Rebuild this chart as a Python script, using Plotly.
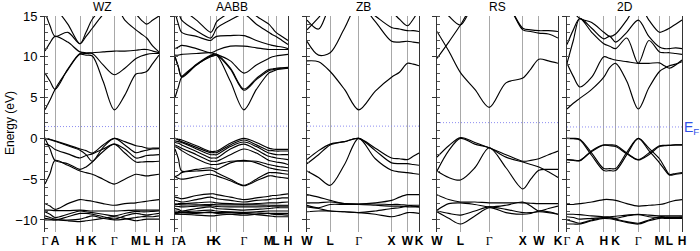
import plotly.graph_objects as go

# ---------------- data ----------------
PANEL_TITLES = ["WZ", "AABB", "ZB", "RS", "2D"]
FERMI_LEVELS = [1.45, 1.5, 1.5, 1.93, 1.4]

WZ_TICKS = [0, 0.088, 0.307, 0.415, 0.608, 0.798, 0.892, 1.0]
WZ_LABELS = ["Γ", "A", "H", "K", "Γ", "M", "L", "H"]
WZ_K = [0, .044, .088, .2, .307, .36, .415, .51, .608, .70, .798, .845, .892, .946, 1.0]
WZ_BANDS = [
    [3.5, 4.7, 6.0, 8.4, 10.3, 10.2, 10.1, 7.0, 3.5, 5.3, 7.9, 8.0, 8.2, 9.2, 10.2],
    [8.0, 7.0, 6.0, 8.5, 10.4, 10.4, 10.4, 9.0, 7.8, 8.6, 9.8, 10.1, 10.3, 10.4, 10.4],
    [10.7, 11.7, 12.5, 11.8, 10.6, 10.5, 10.5, 10.6, 10.7, 10.7, 10.8, 10.9, 10.9, 10.7, 10.5],
    [15.5, 13.8, 12.5, 13.0, 11.6, 12.5, 13.5, 15.2, 16.5, 14.5, 13.3, 12.8, 12.3, 11.3, 10.6],
    [16.5, 16.5, 16.0, 14.0, 11.6, 13.0, 14.6, 16.0, 16.5, 16.0, 15.2, 14.5, 14.0, 14.5, 15.0],
    [0, -0.1, -0.3, -0.8, -1.3, -1.5, -1.8, -0.8, 0, -0.4, -0.9, -1.0, -1.2, -1.2, -1.2],
    [0, -0.15, -0.35, -0.9, -1.45, -2.0, -2.8, -1.1, 0, -0.8, -1.75, -1.6, -1.45, -1.3, -1.25],
    [-0.7, -0.9, -1.35, -1.9, -2.4, -2.1, -1.9, -1.3, -0.7, -1.3, -2.4, -2.3, -2.1, -2.05, -2.0],
    [0, -1.3, -2.7, -3.1, -3.8, -3.5, -2.9, -1.6, -0.7, -1.8, -2.9, -2.9, -2.85, -2.85, -2.8],
    [-5.6, -4.3, -2.7, -3.3, -4.0, -4.2, -4.4, -5.0, -5.6, -5.0, -4.4, -4.5, -4.6, -4.5, -4.4],
    [-8.0, -8.3, -8.7, -8.0, -7.5, -7.6, -7.7, -8.0, -8.2, -8.0, -7.9, -7.8, -7.7, -7.6, -7.5],
    [-8.8, -8.8, -8.85, -8.85, -8.8, -8.85, -8.9, -8.9, -8.9, -8.85, -8.8, -8.8, -8.8, -8.8, -8.8],
    [-9.0, -9.3, -9.7, -9.3, -8.9, -9.0, -9.1, -9.3, -9.5, -9.2, -8.95, -9.0, -9.0, -8.95, -8.9],
    [-9.8, -9.9, -10.0, -9.6, -9.2, -9.2, -9.3, -9.6, -9.9, -9.5, -9.2, -9.3, -9.4, -9.3, -9.2],
    [-10.0, -10.0, -10.0, -10.0, -9.9, -9.7, -9.5, -9.8, -10.0, -9.9, -9.7, -9.6, -9.6, -9.6, -9.5],
    [-9.5, -9.7, -9.9, -10.1, -10.2, -10.1, -10.0, -9.8, -9.6, -9.8, -10.1, -10.0, -9.9, -9.9, -9.9],
]

AABB_TICKS = [0, 0.059, 0.316, 0.369, 0.61, 0.83, 0.894, 1.0]
AABB_LABELS = ["Γ", "A", "H", "K", "Γ", "M", "L", "H"]
AABB_K = [0, .03, .059, .19, .316, .343, .369, .49, .61, .72, .83, .862, .894, .947, 1.0]
AABB_BANDS = [
    [5.0, 6.3, 7.5, 9.0, 10.0, 10.1, 10.2, 7.0, 3.5, 6.0, 8.0, 8.2, 8.4, 8.5, 8.6],
    [10.0, 8.7, 7.5, 9.0, 10.1, 10.2, 10.2, 8.5, 5.9, 7.2, 8.3, 8.4, 8.5, 8.6, 8.6],
    [10.0, 8.8, 7.6, 9.1, 10.2, 10.3, 10.3, 8.6, 6.05, 7.35, 8.45, 8.5, 8.6, 8.65, 8.7],
    [10.2, 10.2, 10.3, 10.4, 10.5, 10.4, 10.3, 9.5, 8.0, 9.0, 9.8, 10.0, 10.1, 10.2, 10.3],
    [11.0, 11.2, 11.4, 11.0, 10.5, 10.6, 10.8, 11.3, 11.3, 11.1, 10.9, 10.9, 10.9, 10.9, 10.9],
    [15.5, 14.0, 13.0, 12.5, 12.0, 12.3, 12.5, 12.6, 12.6, 12.0, 11.5, 11.4, 11.3, 11.2, 11.0],
    [16.0, 15.5, 14.5, 13.2, 12.3, 12.8, 13.5, 14.5, 15.2, 14.0, 13.0, 12.7, 12.5, 12.0, 11.5],
    [16.0, 16.0, 15.8, 14.5, 13.0, 13.5, 14.3, 15.5, 16.5, 15.0, 14.0, 13.5, 13.0, 12.5, 12.0],
    [0, -0.1, -0.2, -0.9, -1.6, -1.6, -1.55, -0.6, 0, -0.5, -1.2, -1.3, -1.35, -1.35, -1.35],
    [0, -0.2, -0.4, -1.1, -1.75, -1.75, -1.75, -0.8, -0.2, -0.8, -1.5, -1.5, -1.55, -1.55, -1.55],
    [-0.3, -0.4, -0.5, -1.3, -2.0, -2.0, -2.0, -1.0, -0.45, -1.0, -1.8, -1.9, -2.0, -2.0, -2.0],
    [-0.5, -0.6, -0.8, -1.6, -2.4, -2.4, -2.4, -1.3, -0.7, -1.4, -2.2, -2.3, -2.4, -2.5, -2.6],
    [-0.8, -1.0, -1.2, -2.0, -2.8, -2.8, -2.8, -2.0, -1.3, -1.8, -2.7, -2.8, -2.9, -3.0, -3.2],
    [-1.0, -1.2, -1.5, -2.5, -3.2, -3.2, -3.2, -2.8, -2.8, -2.8, -3.2, -3.3, -3.4, -3.5, -3.6],
    [-1.3, -2.5, -4.0, -3.8, -3.6, -3.7, -3.8, -3.0, -2.7, -3.0, -3.6, -3.7, -3.8, -3.9, -4.0],
    [-4.7, -4.5, -4.2, -4.0, -3.9, -4.0, -4.2, -5.0, -5.75, -5.0, -4.2, -4.2, -4.2, -4.3, -4.4],
    [-4.7, -4.9, -5.0, -4.7, -4.4, -4.5, -4.6, -5.2, -5.8, -5.2, -4.6, -4.6, -4.7, -4.8, -4.9],
    [-7.2, -7.3, -7.4, -7.0, -6.8, -6.8, -6.9, -7.2, -7.5, -7.3, -7.1, -7.0, -7.0, -6.9, -6.8],
    [-7.6, -7.7, -7.8, -7.5, -7.2, -7.3, -7.4, -7.6, -7.8, -7.6, -7.5, -7.4, -7.4, -7.3, -7.3],
    [-8.0, -8.0, -8.0, -7.9, -7.8, -7.85, -7.9, -8.0, -8.05, -8.0, -7.9, -7.9, -7.9, -7.85, -7.8],
    [-8.1, -8.1, -8.15, -8.15, -8.1, -8.1, -8.15, -8.15, -8.15, -8.15, -8.2, -8.2, -8.2, -8.2, -8.2],
    [-8.3, -8.35, -8.4, -8.3, -8.25, -8.3, -8.35, -8.4, -8.4, -8.4, -8.35, -8.3, -8.3, -8.3, -8.3],
    [-8.6, -8.7, -8.9, -8.6, -8.4, -8.5, -8.6, -8.7, -8.8, -8.7, -8.6, -8.55, -8.5, -8.5, -8.5],
    [-8.9, -8.95, -9.0, -8.9, -8.8, -8.85, -8.9, -9.0, -9.05, -9.0, -8.9, -8.9, -8.9, -8.9, -8.9],
    [-9.1, -9.1, -9.1, -9.1, -9.1, -9.1, -9.1, -9.1, -9.1, -9.15, -9.2, -9.2, -9.2, -9.2, -9.2],
    [-9.2, -9.25, -9.3, -9.4, -9.5, -9.5, -9.45, -9.3, -9.2, -9.35, -9.5, -9.55, -9.6, -9.6, -9.6],
    [-9.3, -9.3, -9.3, -9.2, -9.0, -9.1, -9.2, -9.3, -9.4, -9.3, -9.2, -9.3, -9.35, -9.35, -9.4],
]

ZB_TICKS = [0, 0.207, 0.462, 0.755, 0.897, 1.0]
ZB_LABELS = ["W", "L", "Γ", "X", "W", "K"]
ZB_K = [0, .103, .207, .335, .462, .61, .755, .826, .897, .948, 1.0]
ZB_BANDS = [
    [9.5, 9.4, 8.2, 6.0, 3.5, 5.8, 7.5, 8.1, 9.2, 9.1, 8.9],
    [11.9, 10.2, 10.5, 13.5, 16.5, 14.3, 11.9, 11.8, 11.9, 11.8, 11.7],
    [13.3, 14.8, 16.5, 16.5, 16.5, 15.0, 13.6, 13.4, 13.2, 13.2, 13.1],
    [16.5, 16.5, 16.5, 16.5, 16.5, 16.5, 15.5, 14.6, 13.8, 14.6, 15.8],
    [14.5, 13.4, 16.0, 16.5, 16.5, 16.5, 16.5, 16.5, 16.5, 16.5, 16.5],
    [-2.6, -1.5, -0.7, -0.4, 0, -1.2, -2.4, -2.5, -2.6, -2.2, -1.8],
    [-3.1, -2.0, -0.8, -0.4, 0, -1.5, -3.0, -3.1, -3.1, -3.2, -3.3],
    [-4.0, -4.8, -5.75, -3.2, 0, -2.5, -3.9, -4.1, -4.2, -4.3, -4.4],
    [-6.9, -7.2, -7.6, -8.0, -8.05, -7.9, -7.6, -7.2, -6.9, -6.9, -6.9],
    [-7.9, -7.9, -7.8, -8.0, -8.05, -8.05, -8.1, -8.1, -8.2, -8.2, -8.2],
    [-8.2, -8.5, -8.1, -8.1, -8.1, -8.2, -8.3, -8.3, -8.4, -8.4, -8.4],
    [-8.4, -8.6, -8.9, -9.0, -9.1, -8.9, -8.6, -8.5, -8.3, -8.3, -8.4],
    [-9.0, -8.9, -8.9, -9.0, -9.1, -9.3, -9.6, -9.4, -9.1, -9.1, -9.2],
]

RS_TICKS = [0, 0.194, 0.432, 0.709, 0.842, 1.0]
RS_LABELS = ["W", "L", "Γ", "X", "W", "K"]
RS_K = [0, .097, .194, .313, .432, .57, .709, .775, .842, .921, 1.0]
RS_BANDS = [
    [13.1, 10.7, 8.05, 6.0, 3.8, 6.8, 7.4, 8.5, 9.7, 9.5, 9.2],
    [9.8, 11.8, 13.9, 16.5, 16.5, 16.5, 13.3, 13.1, 12.9, 12.8, 12.3],
    [16.5, 15.0, 13.9, 16.5, 16.5, 16.5, 13.5, 13.3, 13.2, 13.2, 13.1],
    [-2.3, -0.9, 0.1, -0.5, -1.15, -2.0, -2.8, -2.7, -2.5, -2.0, -1.55],
    [-4.0, -1.5, 0.0, -0.7, -1.15, -2.3, -2.9, -3.2, -3.5, -4.1, -4.8],
    [-4.0, -4.8, -5.1, -3.6, -1.15, -3.6, -6.2, -5.0, -3.9, -3.8, -3.8],
    [-6.9, -7.5, -7.8, -7.8, -7.9, -7.9, -7.9, -7.95, -8.0, -8.0, -8.0],
    [-8.8, -8.0, -7.9, -8.1, -8.4, -8.2, -7.8, -8.3, -8.9, -8.6, -8.3],
    [-8.9, -9.2, -9.4, -8.9, -8.4, -8.7, -9.1, -9.1, -9.0, -9.1, -9.3],
    [-9.0, -9.8, -10.5, -9.5, -8.5, -9.1, -9.3, -9.2, -8.9, -9.0, -9.3],
]

D2_TICKS = [0, 0.111, 0.32, 0.423, 0.62, 0.804, 0.89, 1.0]
D2_LABELS = ["Γ", "A", "H", "K", "Γ", "M", "L", "H"]
D2_K = [0, .055, .111, .215, .32, .372, .423, .52, .62, .712, .804, .847, .89, .945, 1.0]
D2_BANDS = [
    [3.6, 4.3, 4.9, 6.0, 7.5, 8.7, 9.2, 7.0, 3.6, 6.2, 8.2, 8.6, 8.9, 9.1, 9.4],
    [9.2, 7.6, 6.3, 7.5, 10.0, 9.8, 9.6, 9.4, 9.2, 9.2, 9.25, 8.9, 8.6, 9.0, 9.6],
    [9.2, 12.0, 14.7, 13.0, 11.6, 11.3, 11.0, 12.3, 9.2, 12.0, 10.6, 10.5, 10.5, 10.4, 10.3],
    [11.5, 13.3, 14.7, 13.5, 12.2, 12.5, 11.8, 13.0, 14.5, 12.5, 11.2, 11.0, 11.0, 11.1, 11.0],
    [16.5, 15.5, 14.7, 14.2, 13.0, 12.5, 12.8, 14.5, 16.5, 14.5, 13.0, 13.2, 13.5, 14.0, 14.5],
    [0, 0, -0.1, -1.8, -3.7, -3.7, -3.7, -1.7, 0, -1.2, -2.5, -3.5, -4.4, -4.3, -4.2],
    [0, -0.05, -0.2, -2.1, -3.95, -3.95, -3.95, -2.0, 0, -1.5, -3.0, -3.8, -4.5, -4.4, -4.3],
    [-2.6, -2.7, -2.75, -1.5, -0.8, -0.8, -0.85, -1.8, -2.6, -1.8, -0.9, -0.85, -0.85, -0.8, -0.8],
    [-2.6, -2.65, -2.7, -1.6, -0.85, -0.9, -1.0, -1.9, -2.65, -2.0, -1.0, -0.9, -0.85, -0.8, -0.8],
    [-8.1, -8.1, -8.0, -7.8, -7.5, -7.5, -7.6, -8.0, -8.3, -8.2, -8.1, -8.0, -7.8, -7.6, -7.5],
    [-9.3, -9.3, -9.35, -9.5, -9.6, -9.6, -9.55, -9.4, -9.3, -9.4, -9.5, -9.5, -9.5, -9.5, -9.5],
    [-9.6, -9.7, -9.9, -9.8, -9.7, -9.7, -9.8, -9.5, -9.35, -9.6, -9.7, -9.7, -9.65, -9.65, -9.6],
    [-10.0, -10.2, -10.4, -10.0, -9.7, -9.75, -9.9, -10.2, -10.4, -10.0, -9.6, -9.6, -9.7, -9.7, -9.7],
    [-10.5, -10.5, -10.5, -10.1, -9.8, -9.85, -10.0, -10.3, -10.5, -10.1, -9.8, -9.8, -9.8, -9.8, -9.8],
]

Y_TICKS = [15, 10, 5, 0, -5, -10]

# ---------------- figure ----------------
W, H = 700, 251
panels = [
    (WZ_K, WZ_BANDS, WZ_TICKS, WZ_LABELS, (45, 159)),
    (AABB_K, AABB_BANDS, AABB_TICKS, AABB_LABELS, (175, 288)),
    (ZB_K, ZB_BANDS, ZB_TICKS, ZB_LABELS, (307, 419)),
    (RS_K, RS_BANDS, RS_TICKS, RS_LABELS, (437, 558)),
    (D2_K, D2_BANDS, D2_TICKS, D2_LABELS, (567, 682)),
]
y_top_px, y_bot_px = 16, 232.2
ydom = [(H - y_bot_px) / H, (H - y_top_px) / H]

fig = go.Figure()
layout = dict(width=W, height=H, margin=dict(l=0, r=0, t=0, b=0, pad=0), autosize=False,
              paper_bgcolor="white", plot_bgcolor="white", showlegend=False,
              font=dict(family="Liberation Sans, Arial, sans-serif", color="black"))
annotations = []

def fmt(lbl):
    if lbl == "Γ":
        return '<span style="font-family:Liberation Serif;font-weight:normal">Γ</span>'
    return "<b>" + lbl + "</b>"

for i, (kx, bands, ticks, labels, (x0, x1)) in enumerate(panels):
    n = "" if i == 0 else str(i + 1)
    xa, ya = "x" + n, "y" + n
    for b in bands:
        fig.add_trace(go.Scatter(x=kx, y=b, mode="lines", xaxis=xa, yaxis=ya,
                                 line=dict(color="black", width=1.15, shape="spline", smoothing=0.9),
                                 hoverinfo="skip"))
    fig.add_trace(go.Scatter(x=[0, 1], y=[FERMI_LEVELS[i]] * 2, mode="lines", xaxis=xa, yaxis=ya,
                             line=dict(color="#8c8cf0", width=1, dash="1px,2px"), hoverinfo="skip"))
    layout["xaxis" + n] = dict(domain=[x0 / W, x1 / W], range=[0, 1], anchor=ya, automargin=False,
                               tickvals=ticks, ticktext=[fmt(t) for t in labels], tickangle=0,
                               showgrid=True, gridcolor="#a8a8a8", gridwidth=1,
                               showline=False, zeroline=False, ticks="", ticklabelstandoff=0,
                               tickfont=dict(size=12, color="black"))
    layout["yaxis" + n] = dict(domain=ydom, range=[-11.5, 15], anchor=xa, automargin=False,
                               tickvals=Y_TICKS, showticklabels=(i == 0),
                               tickfont=dict(size=13), showgrid=False, zeroline=False,
                               showline=True, linecolor="#333333", linewidth=1, mirror=True,
                               ticks="outside", ticklen=4, tickcolor="#333333",
                               minor=dict(dtick=1, ticks="inside", ticklen=3, tickcolor="#555555"))
    annotations.append(dict(text=PANEL_TITLES[i], x=(x0 + x1) / 2 / W, y=(H - 7) / H,
                            xref="paper", yref="paper", showarrow=False,
                            font=dict(size=12), xanchor="center", yanchor="middle"))

annotations.append(dict(text="Energy (eV)", x=10 / W, y=(H - 123) / H, xref="paper", yref="paper",
                        showarrow=False, textangle=-90, font=dict(size=12),
                        xanchor="center", yanchor="middle"))
annotations.append(dict(text="E<sub>F</sub>", x=691 / W, y=(H - 128) / H, xref="paper", yref="paper",
                        showarrow=False, font=dict(size=14, color="#3050e8"),
                        xanchor="center", yanchor="middle"))
layout["annotations"] = annotations
fig.update_layout(**layout)
fig.write_html("out.html", config={"displayModeBar": False, "staticPlot": True},
               post_script="document.body.style.margin='0px';document.body.style.padding='0px';"
                           "document.body.style.overflow='hidden';")
